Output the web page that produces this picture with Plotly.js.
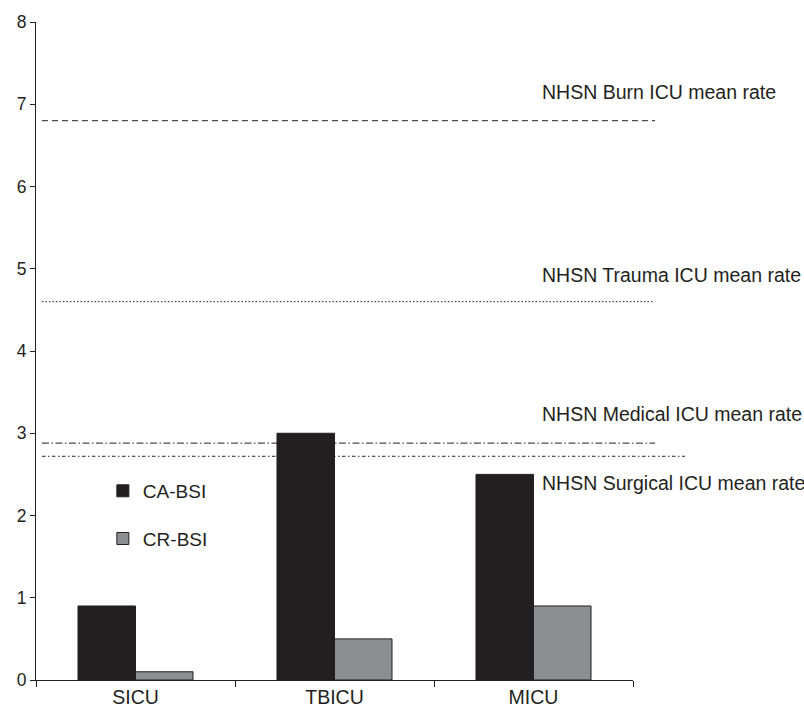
<!DOCTYPE html>
<html>
<head>
<meta charset="utf-8">
<script src="https://cdn.plot.ly/plotly-3.0.1.min.js"></script>
<style>html,body{margin:0;padding:0;background:#fff;}#chart{width:804px;height:708px;}</style>
</head>
<body>
<div id="chart"></div>
<script>
// ---- data ----
const units = ["SICU", "TBICU", "MICU"];
const caBsi = [0.9, 3.0, 2.5];
const crBsi = [0.1, 0.5, 0.9];
const refLabels = ["NHSN Burn ICU mean rate", "NHSN Trauma ICU mean rate", "NHSN Medical ICU mean rate", "NHSN Surgical ICU mean rate"];
const refRates = [6.8, 4.6, 2.88, 2.72];

// ---- styling ----
const ink = "#231f20";
const font = "Liberation Sans, Arial, Helvetica, sans-serif";
const refDash = ["6px,4px", "1.5px,2px", "7px,2.5px,1.5px,2.5px", "3.5px,2.5px,1.5px,2.5px"];
const refEnd = [1.037, 1.034, 1.037, 1.087];
const refShift = [29, 27, 29, -27];

const traces = [
  {type: "bar", name: "CA-BSI", x: units, y: caBsi, legendgroup: "a",
   marker: {color: ink, line: {color: ink, width: 1}}},
  {type: "bar", name: "CR-BSI", x: units, y: crBsi, legendgroup: "b",
   marker: {color: "#8c8e91", line: {color: ink, width: 1}}}
];

const shapes = refRates.map((v, i) => ({
  type: "line", xref: "paper", yref: "y", x0: 0.01, x1: refEnd[i], y0: v, y1: v,
  line: {color: ink, width: 1, dash: refDash[i]}
}));

const annotations = refRates.map((v, i) => ({
  xref: "paper", yref: "y", x: 0.8437, y: v, xanchor: "left", yanchor: "middle",
  yshift: refShift[i], text: refLabels[i], showarrow: false,
  font: {family: font, size: 19.5, color: ink}
}));

const layout = {
  width: 804, height: 708,
  margin: {l: 36, r: 171, t: 22, b: 28},
  paper_bgcolor: "#fff", plot_bgcolor: "#fff",
  font: {family: font, color: ink},
  barmode: "group", bargap: 0.422, bargroupgap: 0,
  showlegend: true,
  legend: {x: 0.112, y: 0.3162, xanchor: "left", yanchor: "top", bgcolor: "rgba(0,0,0,0)",
           font: {family: font, size: 19, color: ink}, traceorder: "grouped", tracegroupgap: 20},
  xaxis: {type: "category", range: [-0.5, 2.5], showline: true, linecolor: ink, linewidth: 1,
          ticks: "outside", tickson: "boundaries", ticklen: 6, tickcolor: ink, showgrid: false,
          zeroline: false, tickfont: {family: font, size: 19.5, color: ink}},
  yaxis: {range: [0, 8], dtick: 1, showline: true, linecolor: ink, linewidth: 1,
          ticks: "outside", ticklen: 5, tickcolor: ink, showgrid: false, zeroline: false,
          tickfont: {family: font, size: 17.5, color: ink}},
  shapes: shapes,
  annotations: annotations
};

Plotly.newPlot("chart", traces, layout, {displayModeBar: false, staticPlot: true});
</script>
</body>
</html>
